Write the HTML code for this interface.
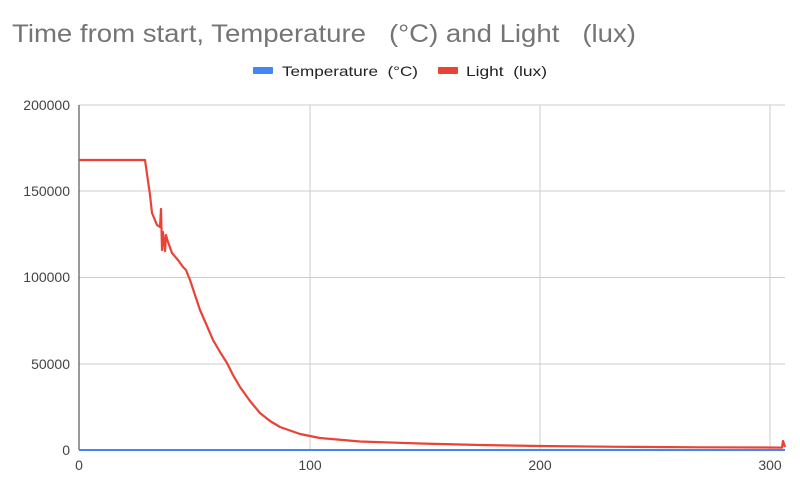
<!DOCTYPE html>
<html><head><meta charset="utf-8"><style>
body{margin:0;background:#fff;font-family:"Liberation Sans",Arial,sans-serif}
text{white-space:pre}
</style></head><body>
<svg width="800" height="490" xmlns="http://www.w3.org/2000/svg" font-family="Liberation Sans, Arial, sans-serif">
<rect width="800" height="490" fill="#fff"/>
<text x="12" y="42" font-size="25" fill="#757575" textLength="624" lengthAdjust="spacingAndGlyphs" xml:space="preserve">Time from start, Temperature   (°C) and Light   (lux)</text>
<rect x="253" y="67" width="20" height="7" fill="#4285f4" rx="1"/>
<text x="282" y="76" font-size="14" fill="#222" textLength="136" lengthAdjust="spacingAndGlyphs" xml:space="preserve">Temperature  (°C)</text>
<rect x="438" y="67" width="20" height="7" fill="#ea4335" rx="1"/>
<text x="466" y="76" font-size="14" fill="#222" textLength="81" lengthAdjust="spacingAndGlyphs" xml:space="preserve">Light  (lux)</text>
<g stroke="#cccccc" stroke-width="1">
<line x1="79" y1="105" x2="785" y2="105"/>
<line x1="79" y1="191" x2="785" y2="191"/>
<line x1="79" y1="277.5" x2="785" y2="277.5"/>
<line x1="79" y1="364" x2="785" y2="364"/>
<line x1="310" y1="105" x2="310" y2="450"/>
<line x1="540" y1="105" x2="540" y2="450"/>
<line x1="770" y1="105" x2="770" y2="450"/>
</g>
<line x1="79" y1="105" x2="79" y2="450" stroke="#333" stroke-width="1"/>
<g font-size="14" fill="#444" text-anchor="end">
<text x="70" y="110">200000</text>
<text x="70" y="196">150000</text>
<text x="70" y="282">100000</text>
<text x="70" y="369">50000</text>
<text x="70" y="455">0</text>
</g>
<g font-size="14" fill="#444" text-anchor="middle">
<text x="79" y="470">0</text>
<text x="310" y="470">100</text>
<text x="540" y="470">200</text>
<text x="770" y="470">300</text>
</g>
<line x1="79" y1="450" x2="785" y2="450" stroke="#4285f4" stroke-width="2"/>
<polyline fill="none" stroke="#ea4335" stroke-width="2.2" stroke-linejoin="round" points="79,160 145,160 150,195 152,213 157,225 160,227 161,209 162,250 163,232 165,251 166,235 168,242 172,253 178,260 183,267 186,270 190,280 195,295 200,310 207,326 213,340 220,352 227,363 233,375 240,387 250,401 260,413 270,421 280,427 300,434 320,438 360,441.5 420,443.5 480,445 540,446 620,446.8 700,447.3 782,447.6 783,441 785,447"/>
</svg>
</body></html>
